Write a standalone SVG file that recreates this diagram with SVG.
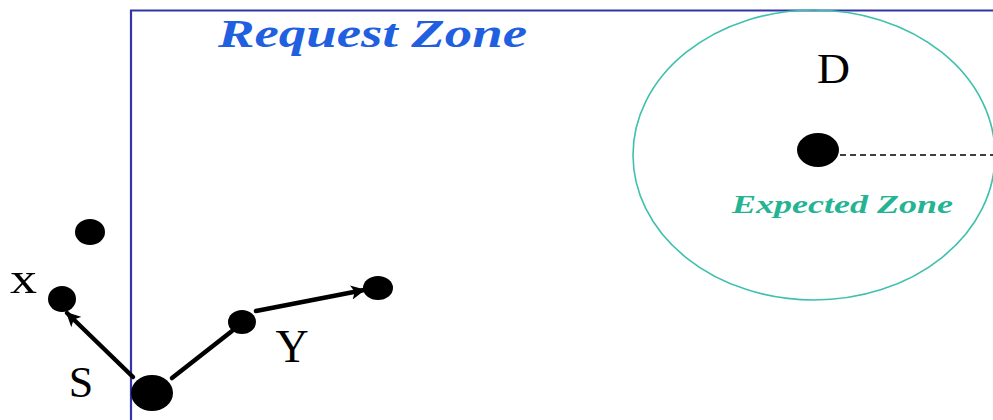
<svg xmlns="http://www.w3.org/2000/svg" width="993" height="420" viewBox="0 0 993 420">
<style>
.node{fill:#000}
.conn{stroke:#000;stroke-width:4.5;fill:none;stroke-linecap:round}
.lbl{font-family:"Liberation Serif","Times New Roman",serif;fill:#000}
</style>
<defs>
<marker id="ah" viewBox="0 0 10 10" refX="9" refY="5" markerWidth="3.2" markerHeight="3.2" orient="auto" markerUnits="strokeWidth">
<path d="M0,0 L10,5 L0,10 L2.5,5 Z" fill="#000"/>
</marker>
</defs>
<rect x="0" y="0" width="993" height="420" fill="#fff"/>
<g id="request-zone">
<path d="M131,420 L131,10.5 L993,10.5" fill="none" stroke="#3434a6" stroke-width="2.2"/>
<text x="218" y="47" font-family="'Liberation Serif',serif" font-weight="bold" font-style="italic" font-size="40" fill="#1f5fe0" textLength="309" lengthAdjust="spacingAndGlyphs">Request Zone</text>
</g>
<g id="expected-zone">
<ellipse cx="814" cy="155" rx="181" ry="145" fill="none" stroke="#3fc0ad" stroke-width="1.6"/>
<text x="732" y="213" font-family="'Liberation Serif',serif" font-weight="bold" font-style="italic" font-size="26" fill="#25b493" textLength="221" lengthAdjust="spacingAndGlyphs">Expected Zone</text>
</g>
<g id="connectors">
<line class="conn" x1="133" y1="377" x2="67" y2="313" marker-end="url(#ah)"/>
<line class="conn" x1="172" y1="378" x2="232" y2="331"/>
<line class="conn" x1="256" y1="311" x2="364" y2="290" marker-end="url(#ah)"/>
<line x1="840" y1="155" x2="993" y2="155" stroke="#000" stroke-width="1.5" stroke-dasharray="6,4"/>
</g>
<g id="node-D">
<ellipse class="node" cx="818" cy="150" rx="21" ry="17"/>
<text class="lbl" x="817" y="83" font-size="42" textLength="33" lengthAdjust="spacingAndGlyphs">D</text>
</g>
<g id="node-S">
<ellipse class="node" cx="152" cy="393" rx="21" ry="18"/>
<text class="lbl" x="81" y="397" font-size="44" text-anchor="middle">S</text>
</g>
<g id="node-X">
<ellipse class="node" cx="62" cy="299" rx="14" ry="13"/>
<text class="lbl" x="10" y="293" font-size="44" textLength="27" lengthAdjust="spacingAndGlyphs">x</text>
</g>
<g id="node-top">
<ellipse class="node" cx="90" cy="232" rx="15" ry="13"/>
</g>
<g id="node-Y">
<ellipse class="node" cx="242" cy="322" rx="14" ry="12"/>
<text class="lbl" x="292" y="362" font-size="46" text-anchor="middle">Y</text>
</g>
<g id="node-far">
<ellipse class="node" cx="378" cy="288" rx="15" ry="12"/>
</g>
</svg>
